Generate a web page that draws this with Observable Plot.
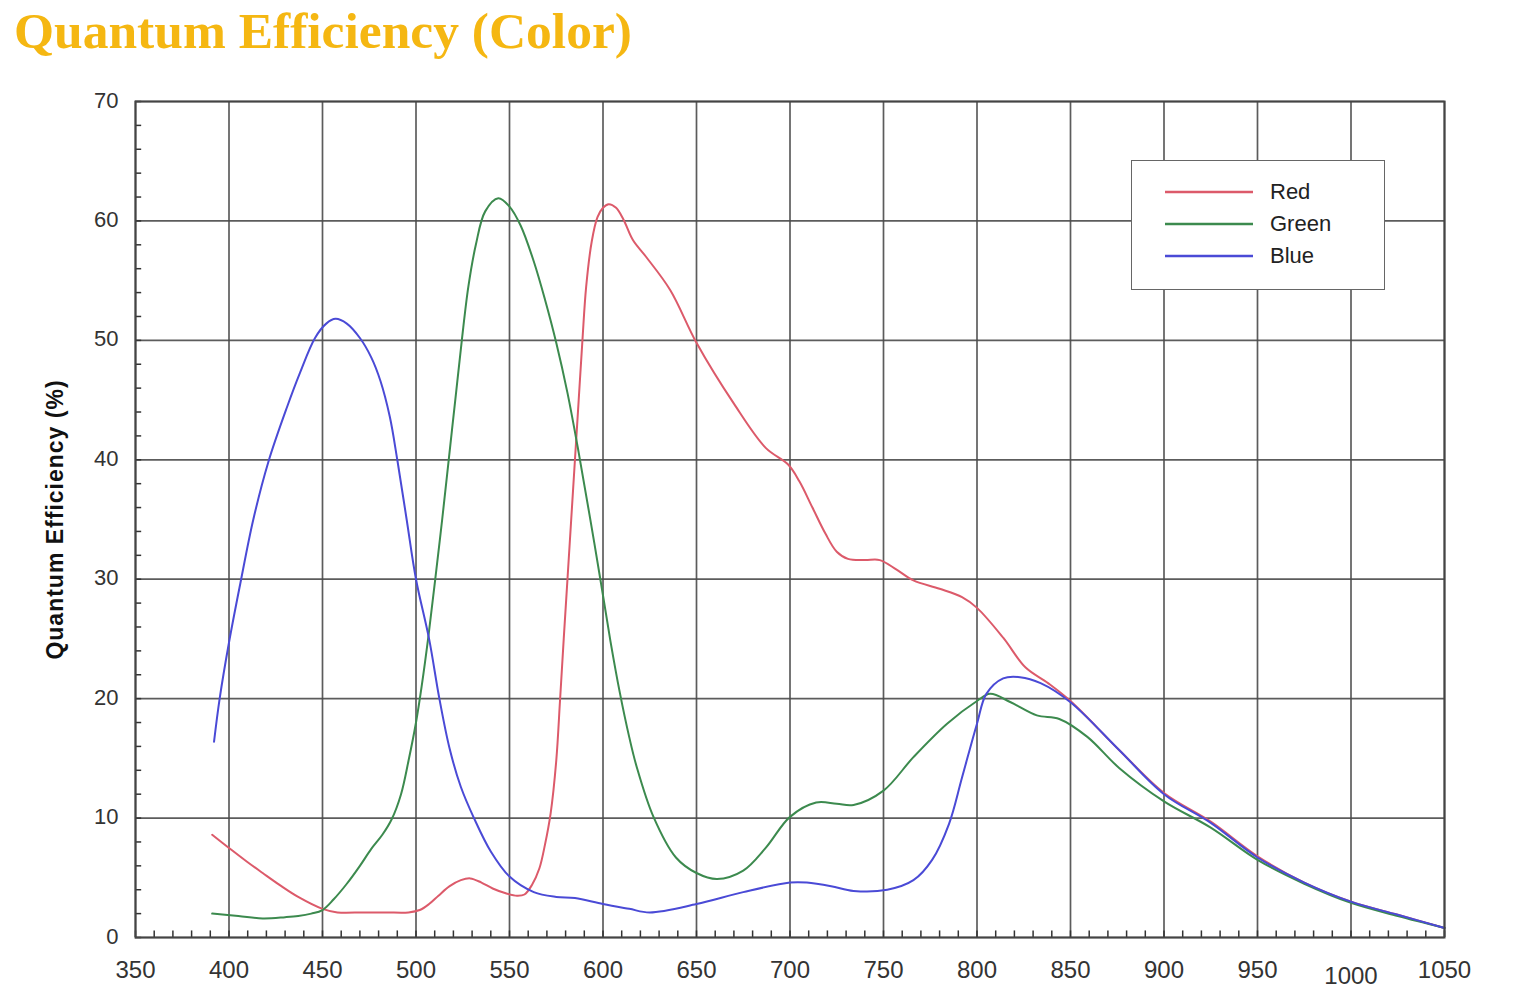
<!DOCTYPE html>
<html>
<head>
<meta charset="utf-8">
<script src="https://cdn.jsdelivr.net/npm/d3@7"></script>
<script src="https://cdn.jsdelivr.net/npm/@observablehq/plot@0.6"></script>
<style>
  html, body { margin: 0; padding: 0; background: #fff; }
  #wrap { position: relative; width: 1520px; height: 1005px; overflow: hidden; }
  #title { height: 70px; padding-left: 14px; font-family: "Liberation Serif", "Times New Roman", serif; font-weight: bold; font-size: 51.5px; line-height: 62px; color: #f5b712; white-space: nowrap; }
  #legend { position: absolute; left: 1131px; top: 160px; width: 254px; height: 130px; border: 1.5px solid #666; background: #fff; box-sizing: border-box; font-family: "Liberation Sans", Arial, sans-serif; font-size: 22px; color: #222; }
  .row { position: absolute; left: 0; height: 32px; display: flex; align-items: center; }
  .row svg { margin-left: 33px; }
  .row span { margin-left: 17px; }
</style>
</head>
<body>
<div id="wrap">
  <div id="title">Quantum Efficiency (Color)</div>
  <div id="chart"></div>
  <div id="legend"></div>
</div>
<script>
// ---- data (wavelength nm, quantum efficiency %) ----
const redNm = [391,400,410,418,428,437,450,458,472,484,496,502,507,512,518,524,529,535,541,548,554,558,562,566,569,572,575,577,579,581,583,585,587,589,591,594,597,600,603,607,611,616,623,636,650,670,687,699,705,712,719,725,731,740,748,757,766,780,792,800,814,826,838,850,876,900,925,950,975,1000,1025,1050];
const redQE = [8.6,7.5,6.3,5.4,4.3,3.4,2.4,2.1,2.1,2.1,2.1,2.3,2.8,3.5,4.3,4.8,4.95,4.6,4.1,3.7,3.5,3.6,4.4,5.8,7.8,10.4,14.8,19.8,25,30,35,40,45,50,54.5,58.3,60.3,61.1,61.4,61.1,60.1,58.4,57,54.2,49.8,44.7,41,39.6,38.2,36,33.8,32.3,31.7,31.6,31.6,30.8,29.9,29.2,28.5,27.6,25.1,22.6,21.3,19.8,15.7,12.1,9.7,6.8,4.6,3.0,1.9,0.8];

const greenNm = [391,405,418,430,437,444,450,456,463,470,476,482,487,492,496,500,503,506.7,510.3,514,517.5,521,524.5,528,532,537,544,550,556,563,569,575,581,587,593,599,604,609,614,618,627,639,650,661,675,687,700,714,725,734,750,766,784,800,807,818,832,844,859,876,900,925,950,975,1000,1025,1050];
const greenQE = [2.0,1.8,1.6,1.7,1.8,2.0,2.3,3.2,4.5,6,7.4,8.6,9.9,12,14.8,18,21,25.3,30,35,40,45,50,54.5,58,60.8,61.9,61.2,59.6,56.6,53.4,49.8,45.6,40.6,35.2,29.6,24.8,20.5,16.8,14.3,10.1,6.7,5.4,4.9,5.6,7.5,10.1,11.3,11.2,11.1,12.3,15.1,17.9,19.8,20.4,19.7,18.6,18.3,16.8,14.2,11.4,9.2,6.5,4.5,2.9,1.8,0.8];

const blueNm = [392,395,400,406,413,421,431,438,446,452,457,463,470,476,481,486,490,495,500,507,512.5,518,524,531,540,550,563,575,585,600,614,625,650,675,700,709,722,734,752,766,776,785,792,800,805,814,823,834,850,876,900,925,950,975,1000,1025,1050];
const blueQE = [16.4,20,24.7,29.6,35,39.8,44.4,47.3,50.2,51.4,51.8,51.4,50.2,48.6,46.6,43.6,40,35,30,25,20,15.8,12.6,10,7.2,5.1,3.8,3.4,3.3,2.8,2.4,2.1,2.8,3.8,4.6,4.6,4.3,3.9,4.0,4.8,6.5,9.5,13.4,17.9,20.4,21.7,21.8,21.3,19.7,15.7,12.0,9.6,6.7,4.6,3.0,1.9,0.8];

const seriesNames = ["Red", "Green", "Blue"];
const seriesColors = ["#dc5a6a", "#3c8a4e", "#4a4ad6"];

const xTicks = [350,400,450,500,550,600,650,700,750,800,850,900,950,1000,1050];
const yTicks = [0,10,20,30,40,50,60,70];
const xMinor = d3.range(350, 1051, 10);
const yMinor = d3.range(0, 71, 2);

// ---- build one table per series ----
const seriesData = [[redNm, redQE], [greenNm, greenQE], [blueNm, blueQE]].map(([nm, qe]) =>
  nm.map((w, j) => ({nm: w, qe: qe[j]}))
);

const font = "'Liberation Sans', Arial, Helvetica, sans-serif";
const gridColor = "#4a4a4a";
const fmt = d => String(d);

const chart = Plot.plot({
  width: 1520,
  height: 935,
  marginTop: 31,
  marginBottom: 68,
  marginLeft: 135,
  marginRight: 76,
  style: {fontFamily: font, background: "#fff", color: "#333"},
  x: {domain: [350, 1050]},
  y: {domain: [0, 70]},
  marks: [
    Plot.ruleX(xTicks, {stroke: gridColor, strokeWidth: 1.7, strokeOpacity: 0.9}),
    Plot.ruleY(yTicks, {stroke: gridColor, strokeWidth: 1.7, strokeOpacity: 0.9}),
    Plot.ruleX(xMinor, {y1: 0, y2: 0.55, stroke: "#333", strokeWidth: 1.5}),
    Plot.ruleY(yMinor, {x1: 350, x2: 353.3, stroke: "#333", strokeWidth: 1.5}),
    ...seriesData.map((data, i) =>
      Plot.line(data, {x: "nm", y: "qe", stroke: seriesColors[i], strokeWidth: 2, curve: "catmull-rom"})
    ),
    Plot.frame({stroke: "#444", strokeWidth: 2}),
    Plot.axisX(xTicks.filter(d => d !== 1000), {tickSize: 0, tickPadding: 23, fontSize: 24, label: null, fill: "#333", tickFormat: fmt}),
    Plot.axisX([1000], {tickSize: 0, tickPadding: 29, fontSize: 24, label: null, fill: "#333", tickFormat: fmt}),
    Plot.axisY(yTicks, {tickSize: 0, tickPadding: 17, fontSize: 22, label: null, fill: "#333", dy: -1, tickFormat: fmt}),
    Plot.text(["Quantum Efficiency (%)"], {frameAnchor: "left", textAnchor: "middle", rotate: -90, dx: -80, fontSize: 23, fontWeight: "bold", fill: "#111", style: "letter-spacing: 1px"})
  ]
});
document.getElementById("chart").appendChild(chart);
chart.querySelectorAll("text").forEach(t => { if (t.textContent === "Quantum Efficiency (%)") t.setAttribute("letter-spacing", "1"); });

// ---- legend ----
const legend = document.getElementById("legend");
seriesNames.forEach((name, i) => {
  const row = document.createElement("div");
  row.className = "row";
  row.style.top = (15 + i * 32) + "px";
  row.innerHTML = `<svg width="88" height="6"><line x1="0" x2="88" y1="3" y2="3" stroke="${seriesColors[i]}" stroke-width="2.5"/></svg><span>${name}</span>`;
  legend.appendChild(row);
});
</script>
</body>
</html>
